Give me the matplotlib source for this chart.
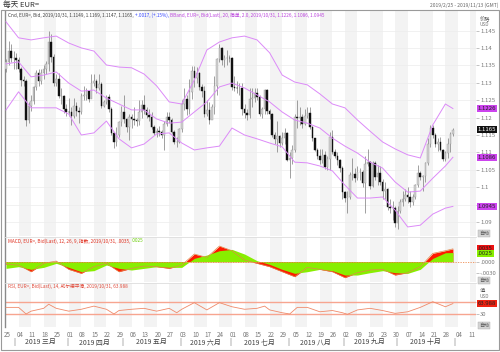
import matplotlib
matplotlib.use('Agg')
import matplotlib.pyplot as plt
from matplotlib.transforms import blended_transform_factory
from matplotlib.patches import Rectangle
import numpy as np

plt.rcParams['font.family'] = ['Noto Sans CJK SC', 'DejaVu Sans']

# ---- daily EUR= candles, 2019-02-25 .. 2019-10-31 (trading days) ----
first_open = 1.1340
close = [1.1360, 1.1390, 1.1370, 1.1370, 1.1365, 1.1340, 1.1307, 1.1306, 1.1193, 1.1234,
         1.1247, 1.1288, 1.1328, 1.1304, 1.1327, 1.1339, 1.1353, 1.1418, 1.1374, 1.1300,
         1.1312, 1.1262, 1.1263, 1.1224, 1.1217, 1.1215, 1.1204, 1.1233, 1.1220, 1.1215,
         1.1262, 1.1264, 1.1276, 1.1254, 1.1300, 1.1304, 1.1285, 1.1296, 1.1234, 1.1245,
         1.1258, 1.1225, 1.1156, 1.1131, 1.1150, 1.1186, 1.1216, 1.1196, 1.1172, 1.1201,
         1.1197, 1.1193, 1.1190, 1.1215, 1.1235, 1.1223, 1.1206, 1.1203, 1.1174, 1.1157,
         1.1162, 1.1160, 1.1151, 1.1183, 1.1203, 1.1193, 1.1158, 1.1130, 1.1130, 1.1168,
         1.1240, 1.1253, 1.1225, 1.1274, 1.1333, 1.1315, 1.1327, 1.1287, 1.1275, 1.1209,
         1.1222, 1.1194, 1.1229, 1.1292, 1.1369, 1.1400, 1.1366, 1.1370, 1.1372, 1.1370,
         1.1288, 1.1286, 1.1284, 1.1284, 1.1226, 1.1213, 1.1208, 1.1253, 1.1257, 1.1270,
         1.1259, 1.1210, 1.1225, 1.1278, 1.1219, 1.1209, 1.1151, 1.1139, 1.1147, 1.1126,
         1.1141, 1.1155, 1.1077, 1.1084, 1.1107, 1.1203, 1.1199, 1.1201, 1.1181, 1.1204,
         1.1214, 1.1172, 1.1140, 1.1107, 1.1090, 1.1079, 1.1093, 1.1058, 1.1080, 1.1143,
         1.1100, 1.1090, 1.1077, 1.1056, 1.0985, 1.0968, 1.0973, 1.1034, 1.1037, 1.1027,
         1.1044, 1.1044, 1.1011, 1.1066, 1.1073, 1.1004, 1.1071, 1.1030, 1.1042, 1.1016,
         1.0990, 1.0994, 1.0942, 1.0940, 1.0940, 1.0898, 1.0933, 1.0959, 1.0966, 1.0978,
         1.0971, 1.0957, 1.0973, 1.1005, 1.1040, 1.1029, 1.1032, 1.1069, 1.1124, 1.1171,
         1.1150, 1.1125, 1.1129, 1.1106, 1.1081, 1.1098, 1.1124, 1.1154, 1.1165]
high = [1.1368, 1.1420, 1.1410, 1.1390, 1.1385, 1.1375, 1.1345, 1.1320, 1.1310, 1.1245,
        1.1265, 1.1292, 1.1338, 1.1340, 1.1339, 1.1350, 1.1362, 1.1448, 1.1440, 1.1382,
        1.1325, 1.1327, 1.1285, 1.1265, 1.1240, 1.1255, 1.1230, 1.1255, 1.1245, 1.1230,
        1.1270, 1.1290, 1.1285, 1.1280, 1.1325, 1.1325, 1.1312, 1.1325, 1.1303, 1.1250,
        1.1265, 1.1268, 1.1230, 1.1160, 1.1172, 1.1190, 1.1232, 1.1265, 1.1200, 1.1210,
        1.1210, 1.1230, 1.1200, 1.1250, 1.1250, 1.1265, 1.1230, 1.1225, 1.1215, 1.1180,
        1.1170, 1.1175, 1.1165, 1.1190, 1.1215, 1.1215, 1.1200, 1.1165, 1.1145, 1.1170,
        1.1250, 1.1285, 1.1266, 1.1310, 1.1348, 1.1347, 1.1345, 1.1330, 1.1295, 1.1290,
        1.1250, 1.1245, 1.1240, 1.1320, 1.1372, 1.1412, 1.1403, 1.1380, 1.1393, 1.1380,
        1.1375, 1.1320, 1.1305, 1.1300, 1.1300, 1.1240, 1.1225, 1.1285, 1.1285, 1.1285,
        1.1285, 1.1265, 1.1230, 1.1282, 1.1282, 1.1225, 1.1212, 1.1160, 1.1190, 1.1150,
        1.1160, 1.1170, 1.1160, 1.1100, 1.1120, 1.1210, 1.1250, 1.1230, 1.1210, 1.1225,
        1.1230, 1.1230, 1.1175, 1.1142, 1.1113, 1.1110, 1.1110, 1.1105, 1.1090, 1.1160,
        1.1165, 1.1110, 1.1100, 1.1080, 1.1060, 1.0990, 1.0990, 1.1045, 1.1085, 1.1055,
        1.1060, 1.1055, 1.1050, 1.1090, 1.1110, 1.1075, 1.1075, 1.1075, 1.1065, 1.1060,
        1.1025, 1.1015, 1.0998, 1.0965, 1.0960, 1.0945, 1.0945, 1.0965, 1.0990, 1.0995,
        1.1000, 1.0990, 1.0980, 1.1010, 1.1063, 1.1046, 1.1035, 1.1073, 1.1140, 1.1180,
        1.1180, 1.1155, 1.1140, 1.1145, 1.1110, 1.1105, 1.1140, 1.1160, 1.1169]
low = [1.1330, 1.1350, 1.1360, 1.1340, 1.1340, 1.1330, 1.1290, 1.1290, 1.1177, 1.1185,
       1.1220, 1.1240, 1.1280, 1.1290, 1.1295, 1.1310, 1.1325, 1.1335, 1.1360, 1.1290,
       1.1290, 1.1255, 1.1240, 1.1212, 1.1205, 1.1205, 1.1180, 1.1200, 1.1205, 1.1185,
       1.1210, 1.1250, 1.1250, 1.1245, 1.1255, 1.1290, 1.1270, 1.1280, 1.1228, 1.1230,
       1.1240, 1.1215, 1.1150, 1.1112, 1.1118, 1.1145, 1.1175, 1.1185, 1.1160, 1.1136,
       1.1170, 1.1180, 1.1175, 1.1180, 1.1200, 1.1210, 1.1200, 1.1190, 1.1168, 1.1150,
       1.1145, 1.1146, 1.1140, 1.1107, 1.1176, 1.1185, 1.1155, 1.1125, 1.1116, 1.1128,
       1.1160, 1.1222, 1.1206, 1.1210, 1.1252, 1.1288, 1.1300, 1.1280, 1.1260, 1.1203,
       1.1205, 1.1181, 1.1195, 1.1210, 1.1265, 1.1360, 1.1350, 1.1345, 1.1350, 1.1360,
       1.1280, 1.1275, 1.1270, 1.1265, 1.1208, 1.1200, 1.1192, 1.1200, 1.1230, 1.1245,
       1.1250, 1.1205, 1.1200, 1.1210, 1.1210, 1.1195, 1.1145, 1.1125, 1.1102, 1.1115,
       1.1120, 1.1125, 1.1075, 1.1027, 1.1068, 1.1100, 1.1170, 1.1180, 1.1170, 1.1180,
       1.1200, 1.1167, 1.1132, 1.1103, 1.1080, 1.1067, 1.1070, 1.1052, 1.1050, 1.1050,
       1.1095, 1.1085, 1.1065, 1.1045, 1.0965, 1.0958, 1.0926, 1.0965, 1.1020, 1.1015,
       1.1020, 1.1020, 1.1000, 1.0927, 1.1060, 1.0995, 1.1000, 1.1020, 1.1005, 1.1005,
       1.0965, 1.0965, 1.0935, 1.0925, 1.0905, 1.0885, 1.0880, 1.0925, 1.0945, 1.0960,
       1.0955, 1.0943, 1.0950, 1.0965, 1.1000, 1.1020, 1.0990, 1.1015, 1.1063, 1.1115,
       1.1140, 1.1115, 1.1105, 1.1103, 1.1075, 1.1075, 1.1085, 1.1100, 1.1147]

# ---- indicator values read at weekly points ----
ind_idx = [0, 5, 10, 15, 20, 25, 30, 35, 40, 45, 50, 55, 60, 65, 70, 75, 80, 85, 90,
           95, 100, 105, 110, 115, 120, 125, 130, 135, 140, 145, 150, 155, 160, 165, 170, 175, 178]
bb_upper = [1.1475, 1.1429, 1.1423, 1.1429, 1.1434, 1.1414, 1.1400, 1.1391, 1.1351, 1.1345,
            1.1343, 1.1325, 1.1291, 1.1245, 1.1239, 1.1308, 1.1394, 1.1417, 1.1429, 1.1434,
            1.1423, 1.1386, 1.1322, 1.1302, 1.1294, 1.1268, 1.1239, 1.1228, 1.1193, 1.1161,
            1.1130, 1.1110, 1.1093, 1.1084, 1.1179, 1.1239, 1.1226]
bb_mid = [1.1354, 1.1360, 1.1317, 1.1322, 1.1331, 1.1299, 1.1276, 1.1279, 1.1256, 1.1239,
          1.1222, 1.1222, 1.1196, 1.1184, 1.1187, 1.1216, 1.1245, 1.1288, 1.1299, 1.1285,
          1.1265, 1.1245, 1.1216, 1.1193, 1.1184, 1.1170, 1.1141, 1.1118, 1.1098, 1.1072,
          1.1055, 1.1015, 1.0986, 1.0989, 1.1026, 1.1061, 1.1086]
bb_lower = [1.1222, 1.1274, 1.1228, 1.1228, 1.1228, 1.1210, 1.1150, 1.1156, 1.1190, 1.1139,
            1.1113, 1.1124, 1.1153, 1.1156, 1.1127, 1.1107, 1.1113, 1.1118, 1.1170, 1.1150,
            1.1139, 1.1127, 1.1116, 1.1072, 1.1070, 1.1061, 1.1047, 1.1006, 1.0969, 1.0969,
            1.0972, 1.0934, 1.0886, 1.0891, 1.0923, 1.0940, 1.0945]
macd = [-0.00073, -0.00091, -0.00273, -0.00045, 0.00018, -0.00209, -0.00318, -0.00136,
        -0.00045, -0.00273, -0.00182, -0.00118, -0.00136, -0.00182, -0.00091, 0.00209,
        0.00118, 0.00427, 0.00300, 0.00045, -0.00045, -0.00136, -0.00273, -0.00409,
        -0.00155, -0.00209, -0.00273, -0.00436, -0.00300, -0.00227, -0.00209, -0.00364,
        -0.00300, -0.00136, 0.00227, 0.00300, 0.00350]
signal = [-0.00182, -0.00136, -0.00209, -0.00155, -0.00045, -0.00155, -0.00273, -0.00245,
          -0.00091, -0.00182, -0.00227, -0.00182, -0.00136, -0.00155, -0.00155, 0.00091,
          0.00182, 0.00300, 0.00336, 0.00209, 0.00027, -0.00073, -0.00209, -0.00318,
          -0.00273, -0.00209, -0.00245, -0.00364, -0.00364, -0.00300, -0.00245, -0.00300,
          -0.00318, -0.00209, 0.00091, 0.00245, 0.00250]
rsi_idx = [0, 5, 8, 10, 15, 17, 20, 25, 30, 35, 40, 43, 45, 50, 55, 60, 65, 68, 70, 75,
           80, 85, 90, 95, 100, 103, 105, 110, 113, 116, 120, 125, 130, 134, 136, 140, 145,
           150, 155, 160, 165, 170, 175, 178]
rsi = [52, 52, 31, 40, 49, 62, 49, 40, 46, 56, 46, 31, 42, 46, 49, 40, 49, 35, 46, 67,
       44, 67, 54, 46, 49, 56, 44, 35, 31, 52, 52, 38, 42, 35, 30, 44, 49, 42, 33, 38,
       52, 70, 54, 64]

week_labels = ['25', '04', '11', '18', '25', '01', '08', '15', '22', '29', '06', '13', '20',
               '27', '03', '10', '17', '24', '01', '08', '15', '22', '29', '05', '12', '19',
               '26', '02', '09', '16', '23', '30', '07', '14', '21', '28', '04', '11']
month_start = [4, 25, 47, 70, 90, 113, 135, 156, 179]
month_names = ['2019 三月', '2019 四月', '2019 五月', '2019 六月', '2019 七月',
               '2019 八月', '2019 九月', '2019 十月']

W, H = 500, 352
fig = plt.figure(figsize=(5, 3.52), dpi=100)


def box(x0, y0, x1, y1):
    return [x0 / W, 1 - y1 / H, (x1 - x0) / W, (y1 - y0) / H]


ax = fig.add_axes(box(5, 11, 476, 236))
axm = fig.add_axes(box(5, 237, 476, 282), sharex=ax)
axr = fig.add_axes(box(5, 283, 476, 327), sharex=ax)

for a in (ax, axm, axr):
    for k in range(1, 38, 2):
        a.axvspan(5 * k, 5 * k + 5, color='#f3f3f3', lw=0, zorder=0)
    for s in ('top', 'right', 'bottom'):
        a.spines[s].set_visible(False)
    a.spines['left'].set_color('#8a8a8a')
    a.spines['left'].set_linewidth(1.0)
    a.yaxis.tick_right()
    a.tick_params(axis='y', length=2, width=0.5, color='#aaaaaa', labelsize=4.3,
                  labelcolor='#7a7a7a', pad=1)
    a.tick_params(axis='x', length=0, labelbottom=False)
for a in (axm, axr):
    a.spines['top'].set_visible(True)
    a.spines['top'].set_color('#dddddd')
    a.spines['top'].set_linewidth(0.6)

ax.set_xlim(-0.4, 187.2)

# candles
idx = np.arange(len(close))
opn = np.array([first_open] + close[:-1])
cls = np.array(close)
up = cls >= opn
ax.vlines(idx, low, high, color='#7a7a7a', lw=0.5, zorder=2)
ax.bar(idx, np.abs(cls - opn), bottom=np.minimum(opn, cls), width=0.62,
       color=np.where(up, '#d2d2d2', '#111111'),
       edgecolor=np.where(up, '#9a9a9a', '#111111'), lw=0.3, zorder=3)

bcol = '#dc8af8'
ax.plot(ind_idx, bb_upper, color=bcol, lw=0.7, zorder=4)
ax.plot(ind_idx, bb_mid, color=bcol, lw=0.7, zorder=4)
ax.plot(ind_idx, bb_lower, color=bcol, lw=0.7, zorder=4)

ax.set_ylim(1.0860, 1.1506)
# 1.095 sits under the 1.0945 marker in the reference, so only its tick is drawn
pt = [1.09, 1.095, 1.10, 1.105, 1.11, 1.115, 1.12, 1.125, 1.13, 1.135, 1.14, 1.145]
ax.set_yticks(pt)
ax.set_yticklabels(['1.09', '', '1.1', '1.105', '1.11', '1.115', '1.12', '1.125',
                    '1.13', '1.135', '1.14', '1.145'])
ax.grid(axis='y', color='#ececec', lw=0.5, zorder=1)

tr = blended_transform_factory(ax.transAxes, ax.transData)
for v, txt, fc, tc in [(1.1226, '1.1226', '#cc44ee', '#222222'),
                       (1.1165, '1.1165', '#111111', '#ffffff'),
                       (1.1086, '1.1086', '#cc44ee', '#222222'),
                       (1.0945, '1.0945', '#cc44ee', '#222222')]:
    ax.text(1.004, v, txt, transform=tr, fontsize=4.3, color=tc, va='center', ha='left',
            bbox=dict(boxstyle='square,pad=0.15', fc=fc, ec='none'), zorder=6, clip_on=False)

# MACD
axm.set_ylim(-0.00554, 0.00674)
axm.fill_between(ind_idx, 0, macd, color='#ff1a00', lw=0, zorder=2)
axm.fill_between(ind_idx, 0, signal, color='#88ee00', lw=0, zorder=3)
axm.plot(ind_idx, macd, color='#e0884a', lw=0.5, zorder=4)
axm.axhline(0, color='#ee8a50', lw=0.6, ls=(0, (1.5, 1.5)), zorder=4)
axm.set_yticks([-0.003, 0.0])
axm.set_yticklabels(['-.0030', '.0000'])
trm = blended_transform_factory(axm.transAxes, axm.transData)
axm.text(1.004, 0.0036, '.0035', transform=trm, fontsize=4.3, color='#222', va='center',
         bbox=dict(boxstyle='square,pad=0.15', fc='#ee1111', ec='none'), clip_on=False)
axm.text(1.004, 0.0023, '.0025', transform=trm, fontsize=4.3, color='#222', va='center',
         bbox=dict(boxstyle='square,pad=0.15', fc='#88ee00', ec='none'), clip_on=False)

# RSI
axr.set_ylim(-10.3, 129.4)
axr.axhline(70, color='#f7a590', lw=1.0, zorder=2)
axr.axhline(30, color='#f7a590', lw=1.0, zorder=2)
axr.plot(rsi_idx, rsi, color='#f08a6a', lw=0.6, zorder=3)
axr.set_yticks([30, 70])
axr.set_yticklabels(['30', ''])
trr = blended_transform_factory(axr.transAxes, axr.transData)
axr.text(1.004, 64, '63.988', transform=trr, fontsize=4.3, color='#222', va='center',
         bbox=dict(boxstyle='square,pad=0.15', fc='#ee2211', ec='none'), clip_on=False)

# date axis
axr.set_xticks([5 * k + 0.5 for k in range(len(week_labels))])
axr.set_xticklabels(week_labels)
axr.tick_params(axis='x', labelbottom=True, labelsize=4.5, labelcolor='#777777', pad=3)

trx = blended_transform_factory(axr.transData, fig.transFigure)
for s in month_start:
    fig.text(s - 0.6, 1 - 342 / H, '|', transform=trx, fontsize=5, color='#666',
             ha='center', va='center')
for k, name in enumerate(month_names):
    c = (month_start[k] + month_start[k + 1]) / 2 - 0.6
    fig.text(c, 1 - 342 / H, name, transform=trx, fontsize=5, color='#444',
             ha='center', va='center')

# header texts
fig.text(3 / W, 1 - 5 / H, '每天 EUR=', fontsize=5.5, color='#333', va='center')
fig.text(498 / W, 1 - 5 / H, '2019/2/25 - 2019/11/13 (GMT)', fontsize=3.6, color='#666',
         va='center', ha='right')
fig.text(480 / W, 1 - 19 / H, '价格', fontsize=3.8, color='#555', va='center')
fig.text(480 / W, 1 - 25 / H, 'USD', fontsize=3.4, color='#777', va='center')
fig.text(480 / W, 1 - 291 / H, '值', fontsize=3.8, color='#555', va='center')
fig.text(480 / W, 1 - 297 / H, 'USD', fontsize=3.4, color='#777', va='center')
for yy in (233, 280, 325):
    fig.text(479 / W, 1 - yy / H, '自动', fontsize=3.6, color='#555', va='center',
             bbox=dict(boxstyle='square,pad=0.2', fc='#d4d4d4', ec='#aaaaaa', lw=0.3))

renderer = fig.canvas.get_renderer()


def seq_text(x_px, y_px, parts, size):
    x = x_px
    for s, c in parts:
        t = fig.text(x / W, 1 - y_px / H, s, color=c, fontsize=size, va='center', ha='left')
        x += t.get_window_extent(renderer=renderer).width


seq_text(8, 15, [('Cnd, EUR=, Bid, 2019/10/31, 1.1149, 1.1169, 1.1147, 1.1165, ', '#444444'),
                 ('+.0017, (+.15%), ', '#3344ff'),
                 ('BBand, EUR=, Bid(Last), 20, 简单, 2.0, 2019/10/31, 1.1226, 1.1086, 1.0945',
                  '#bb44dd')], 3.4)
seq_text(8, 241, [('MACD, EUR=, Bid(Last), 12, 26, 9, 指数, 2019/10/31, .0035, ', '#e03020'),
                  ('.0025', '#66cc00')], 3.4)
seq_text(8, 286, [('RSI, EUR=, Bid(Last), 14, 威尔德平滑, 2019/10/31, 63.988', '#e04a3a')], 3.4)

# outer frame
fig.add_artist(Rectangle((1 / W, 1 - 350 / H), 498 / W, 340 / H, transform=fig.transFigure,
                         fill=False, ec='#9a9a9a', lw=0.8))

fig.savefig('out.png', dpi=100)
